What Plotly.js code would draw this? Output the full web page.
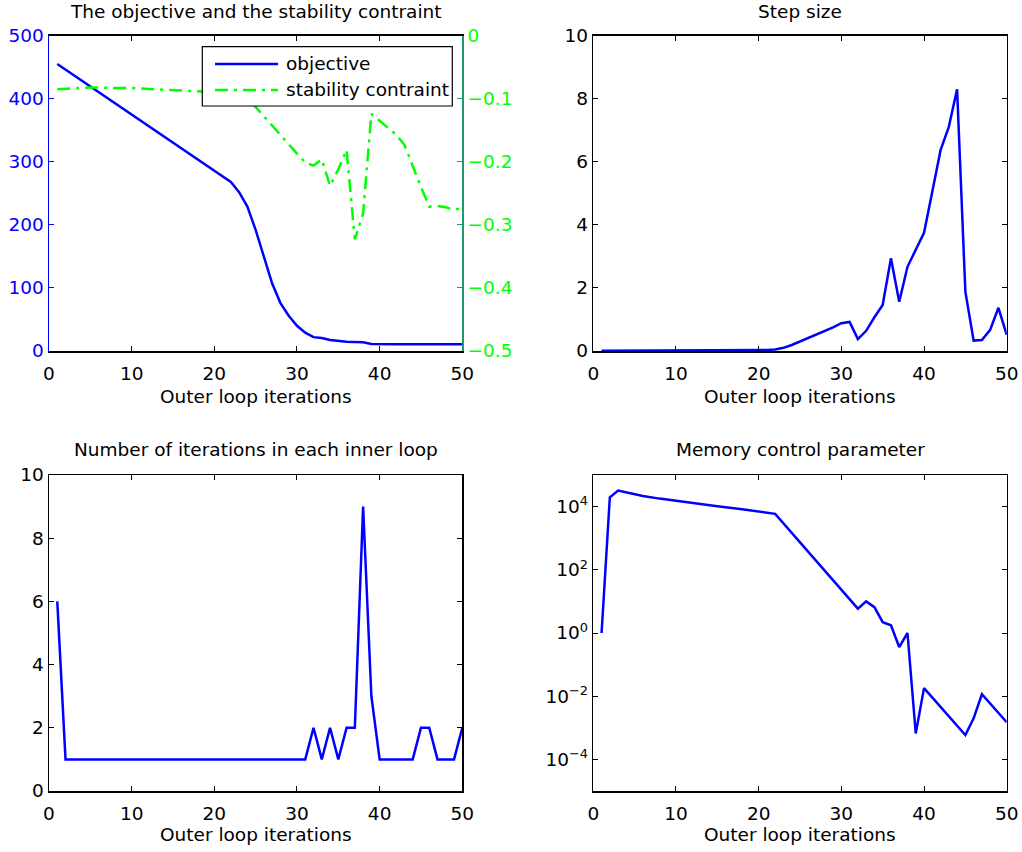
<!DOCTYPE html>
<html>
<head>
<meta charset="utf-8">
<script src="https://cdn.plot.ly/plotly-3.0.1.min.js"></script>
<style>
  html, body { margin: 0; padding: 0; background: #fff; }
  #chart { width: 1022px; height: 852px; }
</style>
</head>
<body>
<div id="chart"></div>
<script>
// Objective value per outer iteration
const objX = [1, 22, 23, 24, 25, 26, 27, 28, 29, 30, 31, 32, 33, 34, 35, 36, 37, 38, 39, 40,
              41, 42, 43, 44, 45, 46, 47, 48, 49, 50];
const objY = [455, 268, 252, 229, 192, 150, 107, 76, 56, 40, 29, 22, 20.6, 17.4, 15.9, 14.8, 14.3, 13.7, 11, 10.6,
              10.6, 10.6, 10.6, 10.6, 10.6, 10.6, 10.6, 10.6, 10.6, 10.6];

// Stability constraint (right axis)
const stabX = [1, 3, 5, 8, 10, 13, 16, 19, 22, 24, 25, 26, 27, 28, 29, 30, 31, 32, 33, 34, 35, 36, 37, 38, 39, 40,
               41, 42, 43, 44, 45, 46, 47, 48, 49, 50];
const stabY = [-0.085, -0.083, -0.082, -0.083, -0.083, -0.085, -0.087, -0.089, -0.095, -0.104, -0.113, -0.128,
               -0.143, -0.158, -0.172, -0.187, -0.201, -0.206, -0.196, -0.238, -0.212, -0.181, -0.323, -0.282,
               -0.124, -0.135, -0.145, -0.157, -0.173, -0.208, -0.24, -0.271, -0.270, -0.272, -0.276, -0.273];

// Step size
const stepX = [1, 2, 3, 4, 5, 6, 7, 8, 9, 10, 11, 12, 13, 14, 15, 16, 17, 18, 19, 20, 21, 22, 23, 24, 25,
               26, 27, 28, 29, 30, 31, 32, 33, 34, 35, 36, 37, 38, 39, 40, 41, 42, 43, 44, 45, 46, 47, 48, 49, 50];
const stepY = [0.01, 0.01, 0.01, 0.01, 0.01, 0.01, 0.01, 0.01, 0.01, 0.01, 0.01, 0.01, 0.01, 0.01, 0.01, 0.01,
               0.01, 0.01, 0.01, 0.02, 0.03, 0.05, 0.1, 0.19, 0.3, 0.43, 0.54, 0.64, 0.75, 0.88, 0.92, 0.38,
               0.64, 1.07, 1.46, 2.94, 1.56, 2.67, 3.2, 3.75, 5.05, 6.37, 7.11, 8.3, 1.88, 0.33, 0.35, 0.67,
               1.37, 0.51];

// Inner loop iteration counts
const iterX = stepX;
const iterY = [6, 1, 1, 1, 1, 1, 1, 1, 1, 1, 1, 1, 1, 1, 1, 1, 1, 1, 1, 1, 1, 1, 1, 1, 1,
               1, 1, 1, 1, 1, 1, 2, 1, 2, 1, 2, 2, 9, 3, 1, 1, 1, 1, 1, 2, 2, 1, 1, 1, 2];

// Memory control parameter (log scale)
const memX = [1, 2, 3, 4, 5, 6, 8, 10, 12, 15, 18, 20, 22, 32, 33, 34, 35, 36, 37, 38, 39, 40, 45, 46, 47, 50];
const memY = [1, 1.97e4, 3.2e4, 2.77e4, 2.39e4, 2.17e4, 1.79e4, 1.51e4, 1.27e4, 1.03e4, 8.2e3, 7.1e3, 5.9e3,
              5.9, 10, 6.6, 2.2, 1.75, 0.36, 1.0, 6.6e-4, 0.018, 5.9e-4, 2e-3, 0.0115, 1.5e-3];

// Tick labels
const xTicks = [0, 10, 20, 30, 40, 50];
const memTickVals = [1e-4, 1e-2, 1, 1e2, 1e4];
const memTickText = ['10<sup>\u22124</sup>', '10<sup>\u22122</sup>', '10<sup>0</sup>', '10<sup>2</sup>', '10<sup>4</sup>'];

const titles = ['The objective and the stability contraint', 'Step size',
                'Number of iterations in each inner loop', 'Memory control parameter'];
const xTitle = 'Outer loop iterations';
const legendNames = ['objective', 'stability contraint'];

const W = 1022, H = 852;
const px = X => X / W;
const py = Y => 1 - Y / H;

const FONT = 'DejaVu Sans';
const FS = 18.5;
const BLUE = '#0000ff';
const GREEN = '#00ff00';
const TEAL = '#1a9b6c';

const colL = [px(49), px(462.3)];
const colR = [px(593.3), px(1006.7)];
const rowT = [py(351), py(35.7)];
const rowB = [py(791), py(475)];

function xAxis(domain, anchor) {
  return {
    domain: domain, anchor: anchor, range: [0, 50], tickvals: xTicks,
    ticks: 'inside', ticklen: 5, tickwidth: 1, tickcolor: '#000',
    showline: true, linecolor: '#000', linewidth: 1.5, mirror: 'ticks',
    showgrid: false, zeroline: false, ticklabelstandoff: 5,
    tickfont: {family: FONT, size: FS, color: '#000'}
  };
}
function yAxis(domain, anchor, range, dtick) {
  return {
    domain: domain, anchor: anchor, range: range, dtick: dtick, tick0: 0,
    ticks: 'inside', ticklen: 5, tickwidth: 1, tickcolor: '#000',
    showline: true, linecolor: '#000', linewidth: 1.5, mirror: 'ticks',
    showgrid: false, zeroline: false,
    tickfont: {family: FONT, size: FS, color: '#000'}
  };
}

const lineW = 2.5;
const dashDot = '13px,6px,3px,6px';

const traces = [
  {x: objX, y: objY, xaxis: 'x', yaxis: 'y', mode: 'lines', name: legendNames[0],
   line: {color: BLUE, width: lineW}},
  {x: stabX, y: stabY, xaxis: 'x', yaxis: 'y2', mode: 'lines', name: legendNames[1],
   line: {color: GREEN, width: lineW, dash: dashDot}},
  {x: stepX, y: stepY, xaxis: 'x2', yaxis: 'y3', mode: 'lines',
   line: {color: BLUE, width: lineW}},
  {x: iterX, y: iterY, xaxis: 'x3', yaxis: 'y4', mode: 'lines',
   line: {color: BLUE, width: lineW}},
  {x: memX, y: memY, xaxis: 'x4', yaxis: 'y5', mode: 'lines',
   line: {color: BLUE, width: lineW}}
];

const yLeft = yAxis(rowT, 'x', [0, 500], 100);
yLeft.mirror = false;
yLeft.linecolor = BLUE;
yLeft.tickcolor = BLUE;
yLeft.tickfont = {family: FONT, size: FS, color: BLUE};

const yRight = {
  overlaying: 'y', side: 'right', anchor: 'x', range: [-0.5, 0], dtick: 0.1, tick0: 0,
  ticks: 'inside', ticklen: 5, tickwidth: 1, tickcolor: TEAL,
  showline: true, linecolor: TEAL, linewidth: 1.5,
  showgrid: false, zeroline: false,
  tickfont: {family: FONT, size: FS, color: GREEN}
};

const yMem = yAxis(rowB, 'x4', [-5, 5], null);
yMem.type = 'log';
yMem.tickvals = memTickVals;
yMem.ticktext = memTickText;
delete yMem.dtick;
delete yMem.tick0;

// Legend box for the first panel
const legBox = {x0: 202.3, x1: 452.3, y0: 46.7, y1: 106};
const legRows = [64, 90];
const shapes = [
  {type: 'rect', xref: 'paper', yref: 'paper', layer: 'above',
   x0: px(legBox.x0), x1: px(legBox.x1), y0: py(legBox.y1), y1: py(legBox.y0),
   fillcolor: '#fff', line: {color: '#000', width: 1.2}},
  {type: 'line', xref: 'paper', yref: 'paper', layer: 'above',
   x0: px(215), x1: px(278), y0: py(legRows[0]), y1: py(legRows[0]),
   line: {color: BLUE, width: lineW}},
  {type: 'line', xref: 'paper', yref: 'paper', layer: 'above',
   x0: px(215), x1: px(278), y0: py(legRows[1]), y1: py(legRows[1]),
   line: {color: GREEN, width: lineW, dash: dashDot}}
];

const textFont = {family: FONT, size: FS, color: '#000'};
function label(text, X, Y, xanchor) {
  return {text: text, xref: 'paper', yref: 'paper', x: px(X), y: py(Y),
          xanchor: xanchor || 'center', yanchor: 'middle', showarrow: false, font: textFont};
}

const annotations = [
  label(titles[0], 256, 12),
  label(titles[1], 800, 12),
  label(titles[2], 256, 450),
  label(titles[3], 800, 450),
  label(xTitle, 256, 396),
  label(xTitle, 800, 396),
  label(xTitle, 256, 834),
  label(xTitle, 800, 834),
  label(legendNames[0], 284, legRows[0], 'left'),
  label(legendNames[1], 284, legRows[1], 'left')
];

const layout = {
  width: W, height: H,
  margin: {l: 0, r: 0, t: 0, b: 0},
  paper_bgcolor: '#fff', plot_bgcolor: '#fff',
  showlegend: false,
  font: {family: FONT, size: FS, color: '#000'},
  xaxis: xAxis(colL, 'y'),
  yaxis: yLeft,
  yaxis2: yRight,
  xaxis2: xAxis(colR, 'y3'),
  yaxis3: yAxis(rowT, 'x2', [0, 10], 2),
  xaxis3: xAxis(colL, 'y4'),
  yaxis4: yAxis(rowB, 'x3', [0, 10], 2),
  xaxis4: xAxis(colR, 'y5'),
  yaxis5: yMem,
  shapes: shapes,
  annotations: annotations
};

Plotly.newPlot('chart', traces, layout, {displayModeBar: false, staticPlot: true});
</script>
</body>
</html>
